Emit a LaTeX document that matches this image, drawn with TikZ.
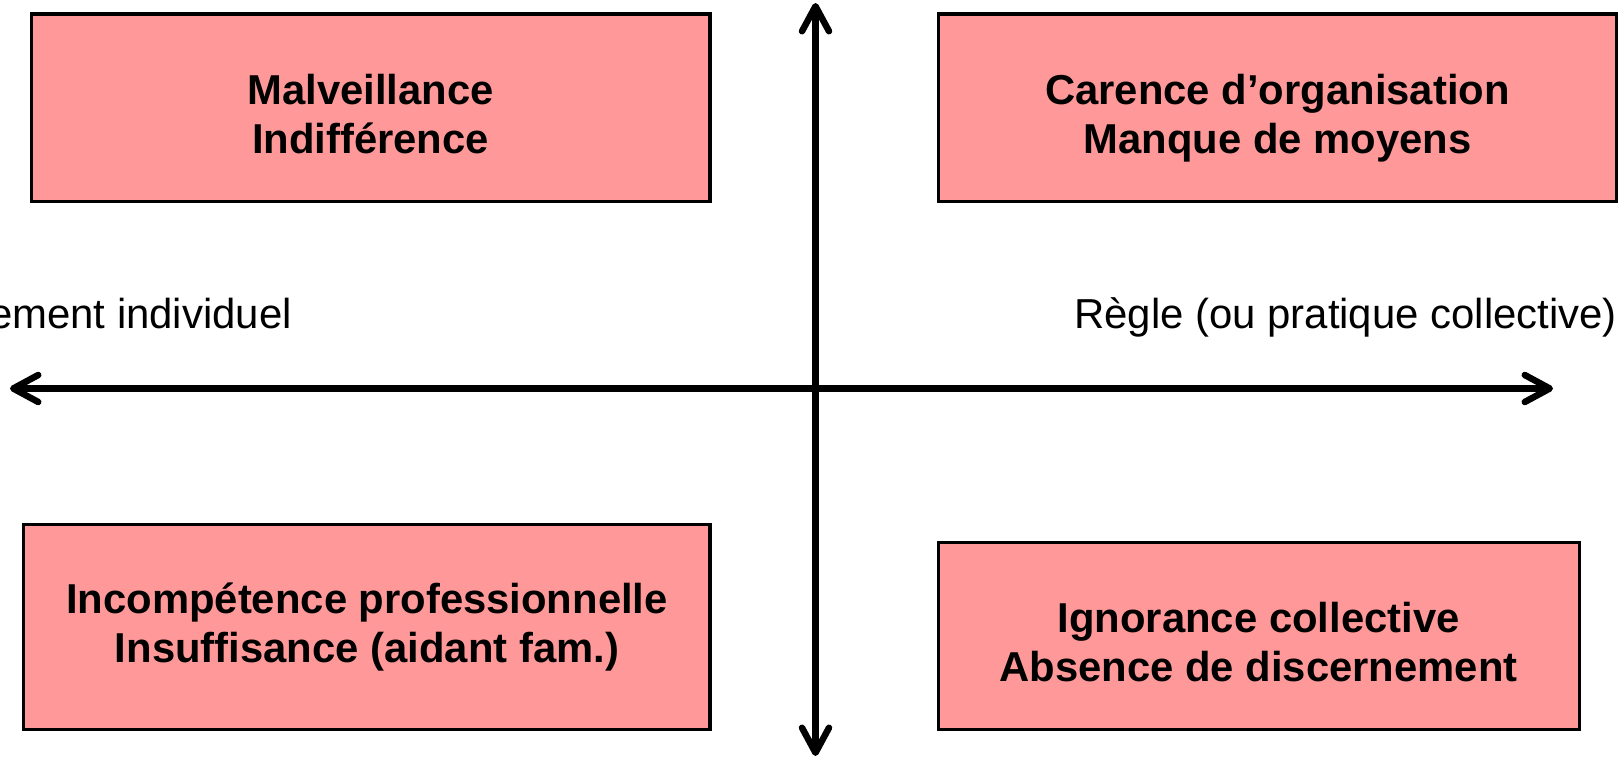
\documentclass[tikz,border=0pt]{standalone}
\usepackage{fontspec}
\setmainfont{Liberation Sans}
\usetikzlibrary{arrows.meta}
\definecolor{boxpink}{HTML}{FF9999}
\tikzset{axbarb/.tip={Straight Barb[length=25bp, width=27bp, round]}}
\begin{document}
\begin{tikzpicture}[x=1bp,y=-1bp,
  quad/.style={draw=black, fill=boxpink, line width=3.3bp, inner sep=0pt, outer sep=0pt},
  quadtext/.style={align=center, inner sep=0pt, anchor=base,
    font=\fontsize{41.8bp}{49.5bp}\selectfont\bfseries},
  axislabel/.style={inner sep=0pt, font=\fontsize{41.9bp}{49.5bp}\selectfont},
  axisline/.style={line width=6.5bp, draw=black, line cap=round, axbarb-axbarb}]
\useasboundingbox (0,0) rectangle (1619,757);

% boxes
\node[quad, minimum width=678.2bp, minimum height=187.3bp] (tl) at (370.8,107.7) {};
\node[quad, minimum width=678.1bp, minimum height=187.3bp] (tr) at (1277.25,107.7) {};
\node[quad, minimum width=686.2bp, minimum height=205.2bp] (bl) at (366.8,627.2) {};
\node[quad, minimum width=641.5bp, minimum height=187.2bp] (br) at (1259,636.2) {};

% box texts (anchored at the baseline of the last line)
\node[quadtext] (tltext) at (370.5,153.5) {Malveillance\\Indifférence};
\node[quadtext] (trtext) at (1277.5,153.5) {Carence d’organisation\\Manque de moyens};
\node[quadtext] (bltext) at (367,662.8) {Incompétence professionnelle\\Insuffisance (aidant fam.)};
\node[quadtext] (brtext) at (1258.6,681.9) {Ignorance collective\\Absence de discernement};

% axis labels
\node[axislabel, anchor=base east] (leftlabel) at (292,328) {ement individuel};
\node[axislabel, anchor=base west] (rightlabel) at (1074,328) {Règle (ou pratique collective)};

% axes
\coordinate (axtop) at (815.5,3);
\coordinate (axbot) at (815.5,756);
\coordinate (axleft) at (10,388.5);
\coordinate (axright) at (1553,388.5);
\draw[axisline] (axleft) -- (axright);
\draw[axisline] (axtop) -- (axbot);
\end{tikzpicture}
\end{document}
